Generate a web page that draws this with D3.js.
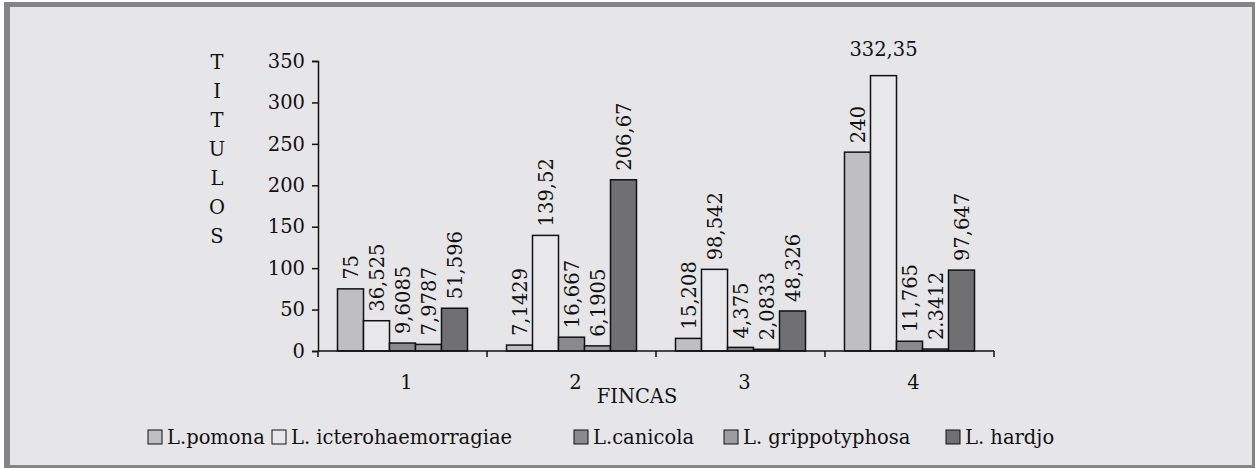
<!DOCTYPE html>
<html>
<head>
<meta charset="utf-8">
<script src="https://cdn.jsdelivr.net/npm/d3@7"></script>
<style>
    body { margin: 0; background: #ffffff; }
    text { font-family: "DejaVu Serif", serif; fill: #111; }
</style>
</head>
<body>
<div id="chart"></div>
<script>
// data
var fincas   = ['1', '2', '3', '4'];
var series   = ['L.pomona', 'L. icterohaemorragiae', 'L.canicola', 'L. grippotyphosa', 'L. hardjo'];
var pomona   = [75, 7.1429, 15.208, 240];
var ictero   = [36.525, 139.52, 98.542, 332.35];
var canicola = [9.6085, 16.667, 4.375, 11.765];
var grippo   = [7.9787, 6.1905, 2.0833, 2.3412];
var hardjo   = [51.596, 206.67, 48.326, 97.647];
var labels   = [
    ['75', '7,1429', '15,208', '240'],
    ['36,525', '139,52', '98,542', '332,35'],
    ['9,6085', '16,667', '4,375', '11,765'],
    ['7,9787', '6,1905', '2,0833', '2.3412'],
    ['51,596', '206,67', '48,326', '97,647']
];
var yTicks   = [0, 50, 100, 150, 200, 250, 300, 350];
var colors   = ['#bfbfc1', '#e8e8ea', '#8a8a8c', '#9d9d9f', '#707072'];

var values = [pomona, ictero, canicola, grippo, hardjo];

var W = 1255, H = 468;
var FS = '19.5px';

var svg = d3.select('#chart').append('svg')
    .attr('width', W)
    .attr('height', H);

// frame
svg.append('rect')
    .attr('x', 4).attr('y', 2)
    .attr('width', W - 4).attr('height', H - 2)
    .attr('fill', '#848486');
svg.append('rect')
    .attr('x', 10).attr('y', 7)
    .attr('width', W - 13).attr('height', H - 10)
    .attr('fill', '#e6e6e8');

var x0 = d3.scaleBand()
    .domain(fincas)
    .range([318, 994]);

var x1 = d3.scaleBand()
    .domain(d3.range(series.length))
    .range([19.5, x0.bandwidth() - 19.5]);

var y = d3.scaleLinear()
    .domain([0, 350])
    .range([351, 61]);

// bars
var groups = svg.selectAll('g.finca')
    .data(fincas)
  .enter().append('g')
    .attr('class', 'finca')
    .attr('transform', d => 'translate(' + x0(d) + ',0)');

groups.each(function(f, fi) {
    var g = d3.select(this);
    series.forEach((s, si) => {
        var v = values[si][fi];
        g.append('rect')
            .attr('x', x1(si))
            .attr('y', y(v))
            .attr('width', x1.bandwidth())
            .attr('height', y(0) - y(v))
            .attr('fill', colors[si])
            .attr('stroke', '#111')
            .attr('stroke-width', 1.5);

        var cx = x1(si) + x1.bandwidth() / 2;
        var lbl = g.append('text')
            .style('font-size', FS)
            .text(labels[si][fi]);
        var len = lbl.node().getComputedTextLength();
        if (y(v) - 9 - len < 20) {
            // no room above: lay it flat
            lbl.attr('x', cx)
                .attr('y', y(v) - 20)
                .attr('text-anchor', 'middle');
        } else {
            lbl.attr('transform', 'translate(' + (cx + 1) + ',' + (y(v) - 9) + ') rotate(-90)')
                .attr('dy', '0.35em');
        }
    });
});

// axes
var yAxis = svg.append('g')
    .attr('transform', 'translate(318,0)')
    .call(d3.axisLeft(y).tickValues(yTicks).tickSize(6).tickPadding(7));

yAxis.select('.domain').attr('stroke', '#111').attr('stroke-width', 1.5);
yAxis.selectAll('.tick line').attr('stroke', '#111').attr('stroke-width', 1.5);
yAxis.selectAll('.tick text')
    .style('font-size', FS)
    .style('font-family', '"DejaVu Serif", serif')
    .attr('fill', '#111');

var xAxis = svg.append('g')
    .attr('transform', 'translate(0,351)');
xAxis.append('line')
    .attr('x1', x0.range()[0]).attr('x2', x0.range()[1])
    .attr('stroke', '#111').attr('stroke-width', 1.5);
xAxis.selectAll('line.tick')
    .data(fincas.concat(['end']))
  .enter().append('line')
    .attr('class', 'tick')
    .attr('x1', (d, i) => x0.range()[0] + i * x0.bandwidth())
    .attr('x2', (d, i) => x0.range()[0] + i * x0.bandwidth())
    .attr('y1', 0).attr('y2', 6)
    .attr('stroke', '#111').attr('stroke-width', 1.5);
xAxis.selectAll('text.lab')
    .data(fincas)
  .enter().append('text')
    .attr('class', 'lab')
    .attr('x', d => x0(d) + x0.bandwidth() / 2 + 4)
    .attr('y', 38)
    .attr('text-anchor', 'middle')
    .style('font-size', FS)
    .text(d => d);

// axis titles
svg.append('g').selectAll('text')
    .data('TITULOS'.split(''))
  .enter().append('text')
    .attr('x', 217)
    .attr('y', (d, i) => 69 + i * 29)
    .attr('text-anchor', 'middle')
    .style('font-size', FS)
    .text(d => d);

svg.append('text')
    .attr('x', 637)
    .attr('y', 403)
    .attr('text-anchor', 'middle')
    .style('font-size', FS)
    .text('FINCAS');

// legend
var legendX = [148, 272, 574, 724, 946];
var legend = svg.append('g').selectAll('g')
    .data(series)
  .enter().append('g')
    .attr('transform', (d, i) => 'translate(' + legendX[i] + ',430)');
legend.append('rect')
    .attr('width', 14).attr('height', 14)
    .attr('fill', (d, i) => colors[i])
    .attr('stroke', '#111').attr('stroke-width', 1);
legend.append('text')
    .attr('x', 19)
    .attr('y', 14)
    .style('font-size', FS)
    .text(d => d);
</script>
</body>
</html>
